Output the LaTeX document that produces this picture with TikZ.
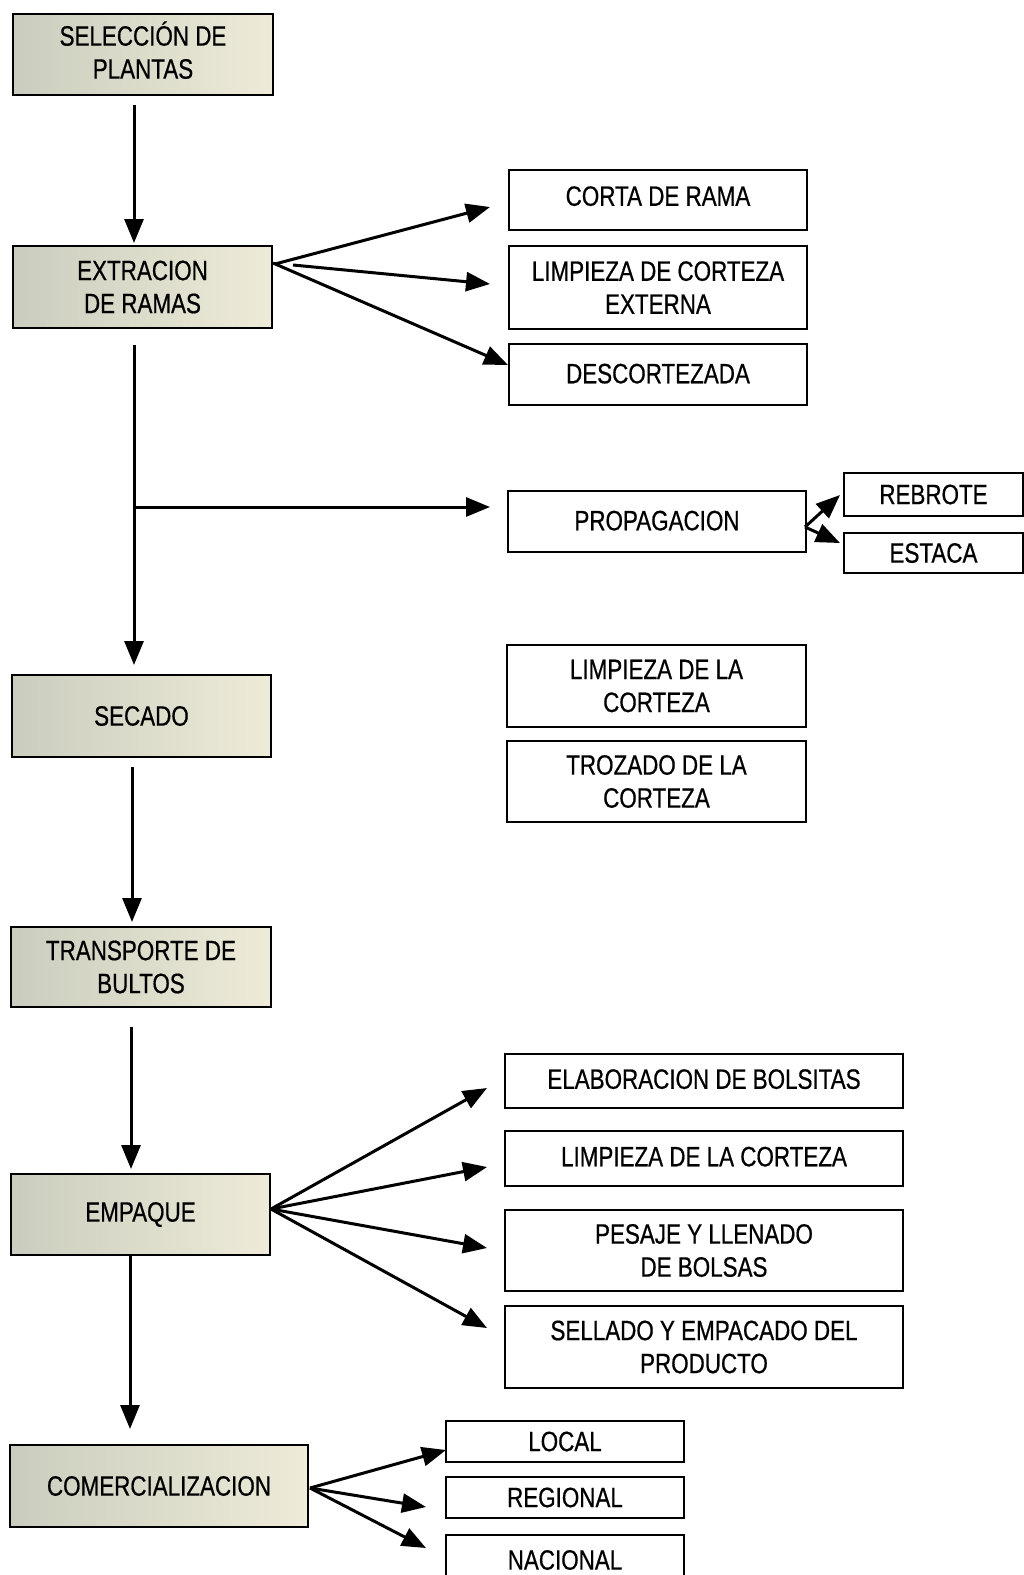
\documentclass[tikz,border=0pt]{standalone}
\usepackage{fontspec}
\setmainfont{Liberation Sans}[FakeStretch=0.80,FakeBold=0.6]
\usetikzlibrary{arrows.meta}
\definecolor{shadeL}{RGB}{202,205,190}
\definecolor{shadeR}{RGB}{238,235,216}
\tikzset{
  base/.style={draw=black, line width=2.6pt, inner sep=0pt, align=center,
    font=\fontsize{28}{33}\selectfont},
  lbox/.style={base, left color=shadeL, right color=shadeR},
  rbox/.style={base, fill=white},
  arr/.style={line width=3pt, -{Triangle[length=24pt,width=19pt]}},
}
\begin{document}
\begin{tikzpicture}[x=1pt,y=-1pt]
\useasboundingbox (0,0) rectangle (1024,1575);
\clip (0,0) rectangle (1024,1575);
% left column
\node[lbox, minimum width=260pt, minimum height=81pt, text depth=9pt] (sel) at (143,54.5) {SELECCIÓN DE\\PLANTAS};
\node[lbox, minimum width=259pt, minimum height=82pt] (ext) at (142.5,287) {EXTRACION\\DE RAMAS};
\node[lbox, minimum width=259pt, minimum height=82pt] (sec) at (141.5,716) {SECADO};
\node[lbox, minimum width=260pt, minimum height=80pt] (tra) at (141,967) {TRANSPORTE DE\\BULTOS};
\node[lbox, minimum width=259pt, minimum height=81pt] (emp) at (140.5,1214.5) {EMPAQUE};
\node[lbox, minimum width=298pt, minimum height=82pt] (com) at (159,1486) {COMERCIALIZACION};
% right column
\node[rbox, minimum width=298pt, minimum height=60pt] (corta) at (658,200) {\raisebox{8pt}{CORTA DE RAMA}};
\node[rbox, minimum width=298pt, minimum height=83pt] (limp1) at (658,287.5) {LIMPIEZA DE CORTEZA\\EXTERNA};
\node[rbox, minimum width=298pt, minimum height=61pt] (desc) at (658,374.5) {\raisebox{2pt}{DESCORTEZADA}};
\node[rbox, minimum width=298pt, minimum height=61pt] (prop) at (657,521.5) {\raisebox{2pt}{PROPAGACION}};
\node[rbox, minimum width=179pt, minimum height=43pt] (rebr) at (933.5,494.5) {REBROTE};
\node[rbox, minimum width=179pt, minimum height=40pt] (esta) at (933.5,553) {ESTACA};
\node[rbox, minimum width=299pt, minimum height=82pt] (limp2) at (656.5,686) {LIMPIEZA DE LA\\CORTEZA};
\node[rbox, minimum width=299pt, minimum height=81pt] (troz) at (656.5,781.5) {TROZADO DE LA\\CORTEZA};
\node[rbox, minimum width=398pt, minimum height=54pt] (elab) at (704,1081) {\raisebox{4pt}{ELABORACION DE BOLSITAS}};
\node[rbox, minimum width=398pt, minimum height=55pt] (limp3) at (704,1158.5) {\raisebox{4pt}{LIMPIEZA DE LA CORTEZA}};
\node[rbox, minimum width=398pt, minimum height=81pt] (pesa) at (704,1250.5) {PESAJE Y LLENADO\\DE BOLSAS};
\node[rbox, minimum width=398pt, minimum height=82pt] (sell) at (704,1347) {SELLADO Y EMPACADO DEL\\PRODUCTO};
\node[rbox, minimum width=238pt, minimum height=41pt] (loc) at (565,1441.5) {LOCAL};
\node[rbox, minimum width=238pt, minimum height=41pt] (reg) at (565,1497.5) {REGIONAL};
\node[rbox, minimum width=238pt, minimum height=50pt] (nac) at (565,1560) {NACIONAL};
% connector coordinates
\coordinate (s1) at (134,105);  \coordinate (e1) at (134,243);
\coordinate (o2) at (275,264);  \coordinate (t2) at (490,207);
\coordinate (o3) at (293,265);  \coordinate (t3) at (490,284);
\coordinate (o4) at (273,263);  \coordinate (t4) at (508,365);
\coordinate (s5) at (134,345);  \coordinate (e5) at (134,665);
\coordinate (b6) at (134,507);  \coordinate (t6) at (490,507);
\coordinate (o7) at (805,527);  \coordinate (t7) at (840,495); \coordinate (t8) at (840,543);
\coordinate (s9) at (132,767);  \coordinate (e9) at (132,922);
\coordinate (s10) at (131,1027); \coordinate (e10) at (131,1169);
\coordinate (s11) at (130,1256); \coordinate (e11) at (130,1429);
\coordinate (oe) at (271,1209);
\coordinate (te1) at (487,1088); \coordinate (te2) at (487,1167);
\coordinate (te3) at (487,1248); \coordinate (te4) at (487,1328);
\coordinate (oc) at (310,1488);
\coordinate (tc1) at (446,1450); \coordinate (tc2) at (426,1507); \coordinate (tc3) at (426,1548);
% connectors
\draw[arr] (s1) -- (e1);
\draw[arr] (o2) -- (t2);
\draw[arr] (o3) -- (t3);
\draw[arr] (o4) -- (t4);
\draw[arr] (s5) -- (e5);
\draw[arr] (b6) -- (t6);
\draw[arr] (o7) -- (t7);
\draw[arr] (o7) -- (t8);
\draw[arr] (s9) -- (e9);
\draw[arr] (s10) -- (e10);
\draw[arr] (s11) -- (e11);
\draw[arr] (oe) -- (te1);
\draw[arr] (oe) -- (te2);
\draw[arr] (oe) -- (te3);
\draw[arr] (oe) -- (te4);
\draw[arr] (oc) -- (tc1);
\draw[arr] (oc) -- (tc2);
\draw[arr] (oc) -- (tc3);
\end{tikzpicture}
\end{document}
